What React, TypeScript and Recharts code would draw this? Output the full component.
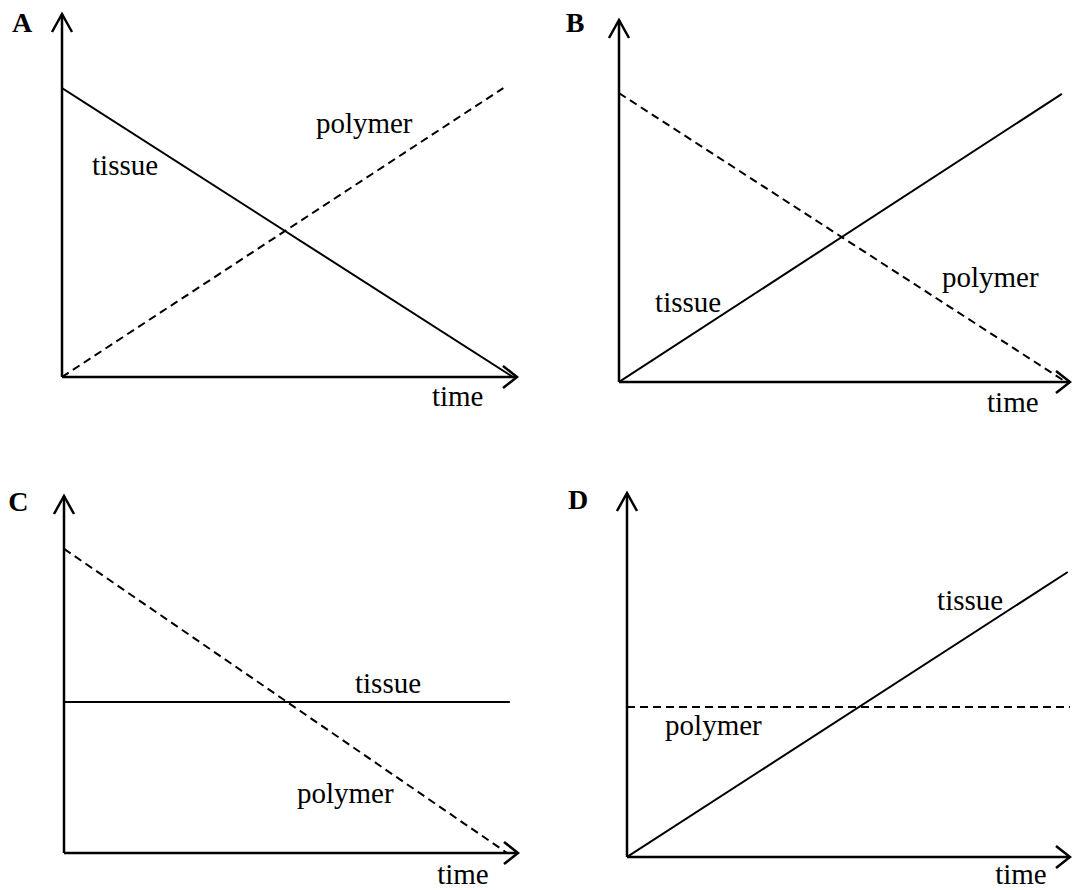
import React from 'react';
import { LineChart, Line, XAxis, YAxis, ReferenceDot, ReferenceLine } from 'recharts';

// ---- data (time on x, amount on y, both 0..100 with 100 at the arrow tips) ----
const tissueA = [{ t: 0, v: 79.6 }, { t: 99.1, v: 0 }];
const polymerA = [{ t: 0, v: 0 }, { t: 97, v: 79.6 }];

const tissueB = [{ t: 0, v: 0 }, { t: 98.2, v: 79.6 }];
const polymerB = [{ t: 0, v: 79.8 }, { t: 99.1, v: 0 }];

const tissueC = [{ t: 0, v: 42.3 }, { t: 98.2, v: 42.3 }];
const polymerC = [{ t: 0, v: 85.2 }, { t: 97.6, v: 0 }];

const tissueD = [{ t: 0, v: 0 }, { t: 99.5, v: 78.3 }];
const polymerD = [{ t: 0, v: 41.2 }, { t: 100, v: 41.2 }];

const panelLetters = ['A', 'B', 'C', 'D'];
const seriesNames = ['tissue', 'polymer'];
const axisLabel = 'time';

// ---- label anchors (annotation placement, in data units) ----
const labelsA = [
  { text: seriesNames[0], t: 6.6, v: 55.6 },
  { text: seriesNames[1], t: 55.8, v: 67.2 },
];
const labelsB = [
  { text: seriesNames[0], t: 8.0, v: 19.3 },
  { text: seriesNames[1], t: 71.6, v: 26.2 },
];
const labelsC = [
  { text: seriesNames[0], t: 64.1, v: 44.8 },
  { text: seriesNames[1], t: 51.3, v: 14.0 },
];
const labelsD = [
  { text: seriesNames[0], t: 70.0, v: 67.9 },
  { text: seriesNames[1], t: 8.6, v: 33.5 },
];

const FONT = '"Liberation Serif", "Times New Roman", Times, serif';

const ArrowRight = (p: any) => (
  <path
    d={`M${p.cx - 14},${p.cy - 11} L${p.cx},${p.cy} L${p.cx - 14},${p.cy + 11}`}
    fill="none"
    stroke="#000"
    strokeWidth={2.5}
  />
);
const ArrowUp = (p: any) => (
  <path
    d={`M${p.cx - 10},${p.cy + 18} L${p.cx},${p.cy} L${p.cx + 10},${p.cy + 18}`}
    fill="none"
    stroke="#000"
    strokeWidth={2.5}
  />
);
const makeText = (text: string, bold = false, size = 29) => (p: any) => (
  <text
    x={p.cx}
    y={p.cy}
    style={{ fontFamily: FONT, fontSize: size, fontWeight: bold ? 700 : 400 }}
    fill="#000"
  >
    {text}
  </text>
);

type PanelProps = {
  left: number;
  top: number;
  width: number;
  height: number;
  margin: { top: number; right: number; bottom: number; left: number };
  tissue: { t: number; v: number }[];
  polymer: { t: number; v: number }[];
  letter: string;
  letterPos: { t: number; v: number };
  timePos: { t: number; v: number };
  labels: { text: string; t: number; v: number }[];
};

function Panel(props: PanelProps) {
  const { left, top, width, height, margin, tissue, polymer, letter, letterPos, timePos, labels } = props;
  return (
    <div style={{ position: 'absolute', left, top, width, height }}>
      <LineChart width={width} height={height} margin={margin}>
        <XAxis type="number" dataKey="t" domain={[0, 100]} allowDataOverflow hide />
        <YAxis type="number" dataKey="v" domain={[0, 100]} allowDataOverflow hide />
        <ReferenceLine y={0} stroke="#000" strokeWidth={2.5} />
        <ReferenceLine x={0} stroke="#000" strokeWidth={2.5} />
        <Line
          data={polymer}
          dataKey="v"
          type="linear"
          stroke="#000"
          strokeWidth={2}
          strokeDasharray="8 5"
          dot={false}
          activeDot={false}
          isAnimationActive={false}
        />
        <Line
          data={tissue}
          dataKey="v"
          type="linear"
          stroke="#000"
          strokeWidth={2}
          dot={false}
          activeDot={false}
          isAnimationActive={false}
        />
        <ReferenceDot x={100} y={0} ifOverflow="visible" shape={ArrowRight} />
        <ReferenceDot x={0} y={100} ifOverflow="visible" shape={ArrowUp} />
        {labels.map((l) => (
          <ReferenceDot key={l.text} x={l.t} y={l.v} ifOverflow="visible" shape={makeText(l.text)} />
        ))}
        <ReferenceDot x={timePos.t} y={timePos.v} ifOverflow="visible" shape={makeText(axisLabel)} />
        <ReferenceDot x={letterPos.t} y={letterPos.v} ifOverflow="visible" shape={makeText(letter, true, 28)} />
      </LineChart>
    </div>
  );
}

export default function App() {
  return (
    <div style={{ position: 'fixed', left: 0, top: 0, width: 1072, height: 890, background: '#fff' }}>
      <Panel
        left={0}
        top={0}
        width={540}
        height={445}
        margin={{ top: 14, right: 23, bottom: 68, left: 62 }}
        tissue={tissueA}
        polymer={polymerA}
        letter={panelLetters[0]}
        letterPos={{ t: -11, v: 95.0 }}
        timePos={{ t: 81.3, v: -8.0 }}
        labels={labelsA}
      />
      <Panel
        left={540}
        top={0}
        width={532}
        height={445}
        margin={{ top: 20, right: 2, bottom: 63, left: 79 }}
        tissue={tissueB}
        polymer={polymerB}
        letter={panelLetters[1]}
        letterPos={{ t: -11.8, v: 96.8 }}
        timePos={{ t: 81.6, v: -8.3 }}
        labels={labelsB}
      />
      <Panel
        left={0}
        top={445}
        width={540}
        height={445}
        margin={{ top: 51, right: 22, bottom: 37, left: 64 }}
        tissue={tissueC}
        polymer={polymerC}
        letter={panelLetters[2]}
        letterPos={{ t: -12.3, v: 95.8 }}
        timePos={{ t: 82.2, v: -8.7 }}
        labels={labelsC}
      />
      <Panel
        left={540}
        top={445}
        width={532}
        height={445}
        margin={{ top: 48, right: 2, bottom: 33, left: 87 }}
        tissue={tissueD}
        polymer={polymerD}
        letter={panelLetters[3]}
        letterPos={{ t: -13.3, v: 95.6 }}
        timePos={{ t: 83.1, v: -7.4 }}
        labels={labelsD}
      />
    </div>
  );
}
